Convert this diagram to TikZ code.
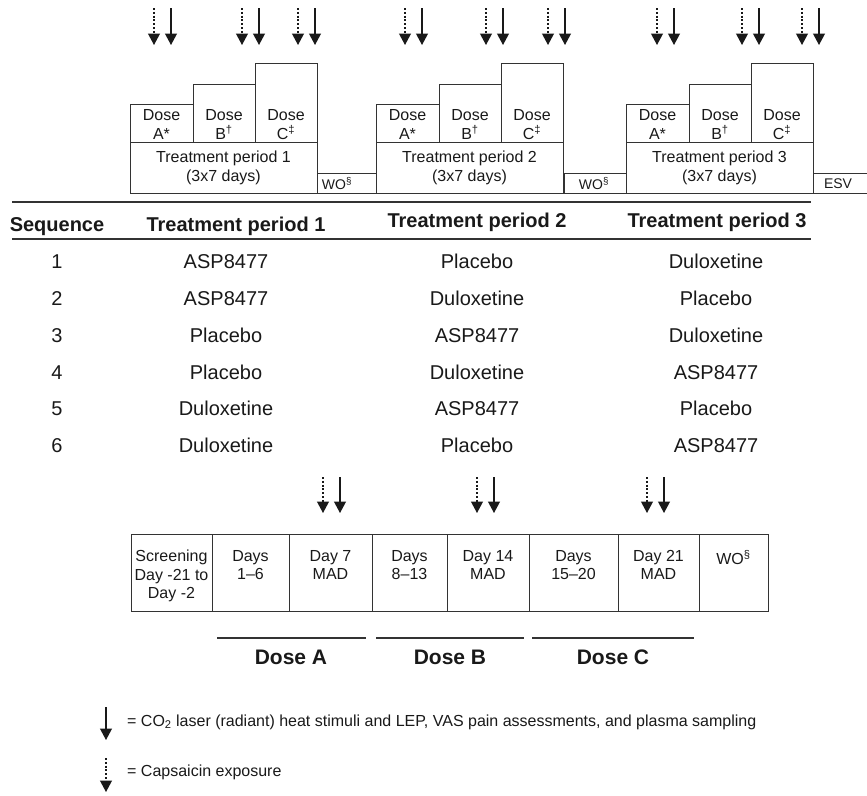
\documentclass[tikz,border=0pt]{standalone}
\usepackage{fontspec}
\setmainfont{Liberation Sans}
\usetikzlibrary{arrows.meta,positioning}

\newcommand\boxfont{\fontsize{16}{19}\selectfont}
\newcommand\wofont{\fontsize{14}{16}\selectfont}
\newcommand\tabfont{\fontsize{20}{24}\selectfont}
\newcommand\legfont{\fontsize{16}{18}\selectfont}

\tikzset{
  box/.style={draw=black!80, line width=1pt},
  rule/.style={draw=black!80, line width=1.4pt},
  bar/.style={draw=black!80, line width=1.1pt},
  boxtxt/.style={font=\boxfont, align=center, inner sep=0pt, text=black!90},
  wotxt/.style={font=\wofont, inner sep=0pt, text=black!90},
  thead/.style={font=\tabfont\bfseries, anchor=base, inner sep=0pt, text=black!90},
  tcell/.style={font=\tabfont, anchor=base, inner sep=0pt, text=black!90},
  dosetxt/.style={font=\fontsize{21}{24}\selectfont\bfseries, anchor=base, inner sep=0pt, text=black!90},
  legtxt/.style={font=\legfont, anchor=west, inner sep=0pt, text=black!90},
  hit/.style={-{Triangle[width=12pt,length=11.5pt]}, line width=1.2pt, black!90},
  caps/.style={hit, dash pattern=on 2pt off 1.8pt},
}

\begin{document}
\begin{tikzpicture}[x=1pt, y=-1pt]
  \useasboundingbox (0,0) rectangle (867,795);
  % ---- top: three treatment periods, each with three dose steps ----
  \foreach \p/\x in {1/130, 2/376, 3/626} {
    \draw[box] (\x,142) rectangle (\x+187,193);
    \draw[box] (\x,104) rectangle (\x+63,142);
    \draw[box] (\x+63,84) rectangle (\x+125,142);
    \draw[box] (\x+125,63) rectangle (\x+187,142);
    \node[boxtxt] (doseA\p) at (\x+31.5,124.5) {Dose\\A*};
    \node[boxtxt] (doseB\p) at (\x+94,124.5) {Dose\\B\textsuperscript{†}};
    \node[boxtxt] (doseC\p) at (\x+156,124.5) {Dose\\C\textsuperscript{‡}};
    \node[boxtxt] (period\p) at (\x+93.5,168) {Treatment period \p\\(3x7 days)};
  }
  % washouts and end-of-study visit
  \draw[box] (317,173) rectangle (376,193);
  \draw[box] (564,173) rectangle (626,193);
  \draw[box] (867,173) -- (813,173) -- (813,193) -- (867,193);
  \node[wotxt] (wo1) at (337,183.5) {WO\textsuperscript{§}};
  \node[wotxt] (wo2) at (594,183.5) {WO\textsuperscript{§}};
  \node[wotxt] (esv) at (838,183.5) {ESV};
  % assessment arrows above each dose
  \foreach \x in {154,242,298,405,486,548,657,742,802} {
    \draw[caps] (\x,8) -- (\x,45);
    \draw[hit] (\x+17,8) -- (\x+17,45);
  }

  % ---- middle: sequence table ----
  \draw[rule] (12,202) -- (811,202);
  \draw[rule] (12,239) -- (811,239);
  \node[thead] (hseq) at (57,231) {Sequence};
  \node[thead] (hp1) at (236,231) {Treatment period 1};
  \node[thead] (hp2) at (477,227) {Treatment period 2};
  \node[thead] (hp3) at (717,227) {Treatment period 3};
  \foreach \n/\y/\a/\b/\c in {1/268/ASP8477/Placebo/Duloxetine,
      2/305/ASP8477/Duloxetine/Placebo, 3/342/Placebo/ASP8477/Duloxetine,
      4/379/Placebo/Duloxetine/ASP8477, 5/415/Duloxetine/ASP8477/Placebo,
      6/452/Duloxetine/Placebo/ASP8477} {
    \node[tcell] (seq\n) at (57,\y) {\n};
    \node[tcell] (ta\n) at (226,\y) {\a};
    \node[tcell] (tb\n) at (477,\y) {\b};
    \node[tcell] (tc\n) at (716,\y) {\c};
  }

  % ---- bottom: day-by-day schedule of one period ----
  \draw[box] (131,534) rectangle (768,611);
  \foreach \x in {212,289,372,447,529,618,699} \draw[box] (\x,534) -- (\x,611);
  \foreach \l/\r/\t [count=\k] in {131/212/{Screening\\Day -21 to\\Day -2},
      212/289/{Days\\1–6}, 289/372/{Day 7\\MAD}, 372/447/{Days\\8–13},
      447/529/{Day 14\\MAD}, 529/618/{Days\\15–20}, 618/699/{Day 21\\MAD},
      699/768/{WO\textsuperscript{§}}} {
    \node[boxtxt, anchor=north, font=\fontsize{16}{18.5}\selectfont]
      (day\k) at ({(\l+\r)/2},550) {\t};
  }
  \foreach \x in {323,477,647} {
    \draw[caps] (\x,477) -- (\x,513);
    \draw[hit] (\x+17,477) -- (\x+17,513);
  }
  % dose blocks under the schedule
  \draw[bar] (217,638) -- (366,638);
  \draw[bar] (376,638) -- (524,638);
  \draw[bar] (532,638) -- (694,638);
  \node[dosetxt] (blkA) at (291,664.5) {Dose A};
  \node[dosetxt] (blkB) at (450,664.5) {Dose B};
  \node[dosetxt] (blkC) at (613,664.5) {Dose C};

  % ---- legend ----
  \draw[hit] (106,707) -- (106,740);
  \node[legtxt] (leg1) at (127,722)
    {= CO\textsubscript{2} laser (radiant) heat stimuli and LEP, VAS pain assessments, and plasma sampling};
  \draw[caps] (106,758) -- (106,792);
  \node[legtxt] (leg2) at (127,772) {= Capsaicin exposure};
\end{tikzpicture}
\end{document}
